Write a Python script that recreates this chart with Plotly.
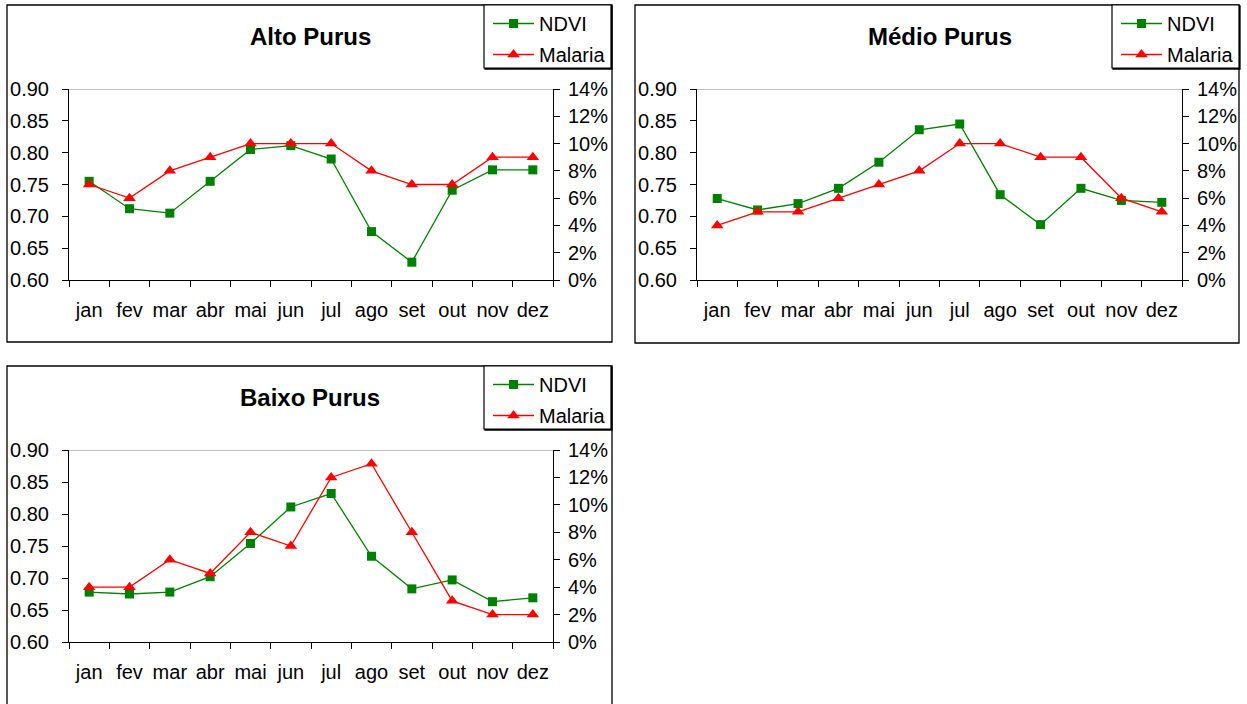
import plotly.graph_objects as go

# ---------------- data ----------------
months = ["jan", "fev", "mar", "abr", "mai", "jun", "jul", "ago", "set", "out", "nov", "dez"]
regions = ["Alto Purus", "Médio Purus", "Baixo Purus"]

ndvi_alto = [0.755, 0.712, 0.705, 0.755, 0.805, 0.811, 0.790, 0.676, 0.628, 0.741, 0.773, 0.773]
malaria_alto = [7, 6, 8, 9, 10, 10, 10, 8, 7, 7, 9, 9]

ndvi_medio = [0.728, 0.710, 0.720, 0.744, 0.785, 0.836, 0.845, 0.734, 0.687, 0.744, 0.725, 0.722]
malaria_medio = [4, 5, 5, 6, 7, 8, 10, 10, 9, 9, 6, 5]

ndvi_baixo = [0.678, 0.675, 0.678, 0.702, 0.754, 0.811, 0.832, 0.734, 0.683, 0.697, 0.663, 0.669]
malaria_baixo = [4, 4, 6, 5, 8, 7, 12, 13, 8, 3, 2, 2]

ndvi_ticks = [0.60, 0.65, 0.70, 0.75, 0.80, 0.85, 0.90]
malaria_ticks = [0, 2, 4, 6, 8, 10, 12, 14]
malaria_labels = [f"{v}%" for v in malaria_ticks]

ndvi_series = [ndvi_alto, ndvi_medio, ndvi_baixo]
malaria_series = [malaria_alto, malaria_medio, malaria_baixo]

# ---------------- layout geometry (pixels) ----------------
W, H = 1247, 704
panels = [
    dict(box=(7, 5, 612, 342), plot=(69, 89, 553, 280), leg=(484, 5, 611, 68), title=(310, 36)),
    dict(box=(635, 5, 1239, 343), plot=(697, 89, 1182, 280), leg=(1112, 5, 1239, 68), title=(940, 36)),
    dict(box=(7, 366, 612, 720), plot=(69, 450, 553, 642), leg=(484, 366, 611, 429), title=(310, 397)),
]

FONT = "Liberation Sans, Arial, sans-serif"
FS = 20
GREEN = "#008000"
RED = "#FF0000"


def px(x):
    return x / W


def py(y):
    return 1 - y / H


fig = go.Figure()
layout = dict(
    width=W, height=H, margin=dict(l=0, r=0, t=0, b=0, autoexpand=False),
    paper_bgcolor="white", plot_bgcolor="rgba(0,0,0,0)",
    font=dict(family=FONT, size=FS, color="black"),
    showlegend=True,
)
shapes = []
annotations = []

for i, p in enumerate(panels):
    x0, y0, x1, y1 = p["plot"]
    xid = 2 * i + 1
    xin = 2 * i + 2
    yl, yli, yr, yri = 4 * i + 1, 4 * i + 2, 4 * i + 3, 4 * i + 4
    xn = "x" if xid == 1 else f"x{xid}"
    xk = "xaxis" if xid == 1 else f"xaxis{xid}"
    yln = "y" if yl == 1 else f"y{yl}"
    ylk = "yaxis" if yl == 1 else f"yaxis{yl}"
    xdom = [px(x0), px(x1)]
    ydom = [py(y1), py(y0)]
    leg = "legend" if i == 0 else f"legend{i + 1}"

    # main category x axis (ticks outside at boundaries)
    layout[xk] = dict(domain=xdom, anchor=yln, type="category", categoryorder="array",
                      categoryarray=months, range=[-0.5, 11.5], tickson="boundaries",
                      ticks="outside", ticklen=6, tickcolor="black", tickwidth=1,
                      showline=True, linecolor="black", linewidth=1, showgrid=False,
                      zeroline=False, ticklabelstandoff=12, tickangle=0,
                      tickfont=dict(family=FONT, size=FS))
    # inside-tick overlay x axis
    layout[f"xaxis{xin}"] = dict(domain=xdom, anchor=yln, overlaying=xn, type="linear",
                                 range=[-0.5, 11.5], tickmode="array",
                                 tickvals=[k - 0.5 for k in range(13)],
                                 ticks="inside", ticklen=6, tickcolor="black", tickwidth=1,
                                 showticklabels=False, showline=False, showgrid=False,
                                 zeroline=False)
    # left NDVI axis
    layout[ylk] = dict(domain=ydom, anchor=xn, range=[0.60, 0.90], tickmode="array",
                       tickvals=ndvi_ticks, tickformat=".2f", ticks="outside", ticklen=6,
                       tickcolor="black", showline=True, linecolor="black", linewidth=1,
                       showgrid=False, zeroline=False, ticklabelstandoff=9,
                       tickfont=dict(family=FONT, size=FS))
    layout[f"yaxis{yli}"] = dict(domain=ydom, anchor=xn, overlaying=yln, side="left",
                                 range=[0.60, 0.90], tickmode="array", tickvals=ndvi_ticks,
                                 ticks="inside", ticklen=6, tickcolor="black",
                                 showticklabels=False, showline=False, showgrid=False,
                                 zeroline=False)
    # right malaria axis
    layout[f"yaxis{yr}"] = dict(domain=ydom, anchor=xn, overlaying=yln, side="right",
                                range=[0, 14], tickmode="array", tickvals=malaria_ticks,
                                ticktext=malaria_labels, ticks="outside", ticklen=6,
                                tickcolor="black", showline=True, linecolor="black",
                                linewidth=1, showgrid=False, zeroline=False,
                                ticklabelstandoff=4, tickfont=dict(family=FONT, size=FS))
    layout[f"yaxis{yri}"] = dict(domain=ydom, anchor=xn, overlaying=yln, side="right",
                                 range=[0, 14], tickmode="array", tickvals=malaria_ticks,
                                 ticks="inside", ticklen=6, tickcolor="black",
                                 showticklabels=False, showline=False, showgrid=False,
                                 zeroline=False)

    fig.add_trace(go.Scatter(x=months, y=ndvi_series[i], name="NDVI", mode="lines+markers",
                             xaxis=xn, yaxis=yln, legend=leg, legendgroup=f"n{i}",
                             line=dict(color=GREEN, width=1.3),
                             marker=dict(symbol="square", size=9, color=GREEN),
                             cliponaxis=False))
    fig.add_trace(go.Scatter(x=months, y=malaria_series[i], name="Malaria", mode="lines+markers",
                             xaxis=xn, yaxis=f"y{yr}", legend=leg, legendgroup=f"m{i}",
                             line=dict(color=RED, width=1.3),
                             marker=dict(symbol="triangle-up", size=11, color=RED),
                             cliponaxis=False))

    # legend
    lx0, ly0, lx1, ly1 = p["leg"]
    layout[leg] = dict(x=px(lx0 + 4), y=py(ly0 - 1), xanchor="left", yanchor="top",
                       bgcolor="rgba(0,0,0,0)", borderwidth=0, itemwidth=41,
                       tracegroupgap=2, traceorder="grouped",
                       font=dict(family=FONT, size=FS, color="black"))

    # panel border, legend border (with Excel-like shadow), top gray line
    bx0, by0, bx1, by1 = p["box"]
    shapes.append(dict(type="rect", xref="paper", yref="paper", x0=px(bx0), x1=px(bx1),
                       y0=py(by1), y1=py(by0), line=dict(color="black", width=1.3),
                       layer="below"))
    shapes.append(dict(type="rect", xref="paper", yref="paper", x0=px(lx0 + 1), x1=px(lx1 + 1),
                       y0=py(ly1 + 1), y1=py(ly0 + 1), line=dict(color="black", width=1.3),
                       fillcolor="black", layer="below"))
    shapes.append(dict(type="rect", xref="paper", yref="paper", x0=px(lx0), x1=px(lx1),
                       y0=py(ly1), y1=py(ly0), line=dict(color="black", width=1.2),
                       fillcolor="white", layer="below"))
    shapes.append(dict(type="line", xref=f"{xn} domain", yref=yln, x0=0, x1=1,
                       y0=0.90, y1=0.90, line=dict(color="#808080", width=1), layer="below"))

    tx, ty = p["title"]
    annotations.append(dict(text=f"<b>{regions[i]}</b>", x=px(tx), y=py(ty), xref="paper",
                            yref="paper", showarrow=False, xanchor="center", yanchor="middle",
                            font=dict(family=FONT, size=24, color="black")))

layout["shapes"] = shapes
layout["annotations"] = annotations
fig.update_layout(**layout)

fig.write_html("out.html", config={"displayModeBar": False},
               post_script="document.body.style.margin='0';document.body.style.overflow='hidden';")
